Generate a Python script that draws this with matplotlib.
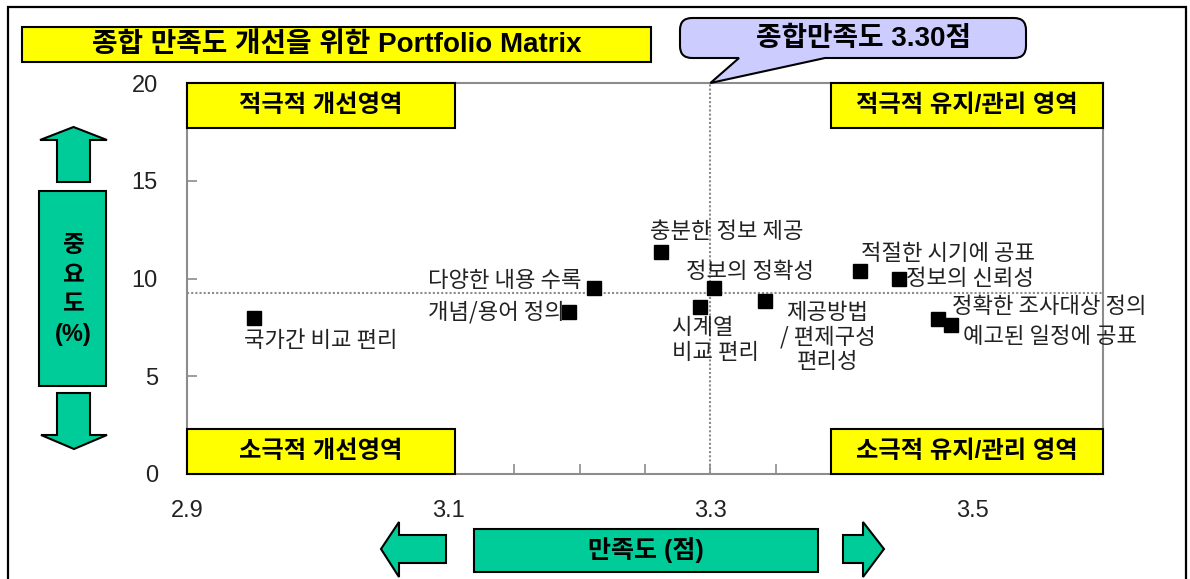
import matplotlib
matplotlib.use('Agg')
import matplotlib.pyplot as plt
from matplotlib.patches import Rectangle, Polygon, PathPatch
from matplotlib.path import Path
from matplotlib.ticker import FixedLocator, MultipleLocator

plt.rcParams['font.family'] = ['Noto Sans CJK KR', 'DejaVu Sans']
LATIN_FIRST = ['Liberation Sans', 'Noto Sans CJK KR', 'DejaVu Sans']

# ---------------- data ----------------
items = ['국가간 비교 편리', '개념/용어 정의', '다양한 내용 수록', '충분한 정보 제공',
         '시계열\n비교 편리', '정보의 정확성', '제공방법\n/ 편제구성\n편리성',
         '적절한 시기에 공표', '정보의 신뢰성', '정확한 조사대상 정의', '예고된 일정에 공표']
satisfaction = [2.951, 3.192, 3.211, 3.262, 3.292, 3.303, 3.342, 3.414, 3.444, 3.474, 3.484]
importance = [7.99, 8.28, 9.52, 11.35, 8.55, 9.52, 8.84, 10.37, 9.98, 7.94, 7.61]
overall_satisfaction = 3.30
avg_importance = 9.27
x_ticks = [2.9, 3.1, 3.3, 3.5]
x_ticklabels = ['2.9', '3.1', '3.3', '3.5']
y_ticks = [0, 5, 10, 15, 20]
quadrants = ['적극적 개선영역', '적극적 유지/관리 영역', '소극적 개선영역', '소극적 유지/관리 영역']
title = '종합 만족도 개선을 위한 Portfolio Matrix'
callout = '종합만족도 3.30점'
xlabel = '만족도 (점)'
ylabel = '중\n요\n도\n(%)'

# label layout: (dx px, dy px (down positive), ha)
label_layout = [(-10, 23, 'left'), (-4, 0, 'right'), (-12, -7, 'right'), (-11, -21, 'left'),
                (-28, 33, 'left'), (-28, -16, 'left'), (62, 36, 'center'),
                (1, -18, 'left'), (7, 0, 'left'), (14, -12, 'left'), (12, 11, 'left')]

W, H = 1190, 579
fig = plt.figure(figsize=(11.9, 5.79), dpi=100)
fig.patch.set_facecolor('white')

def fx(x):
    return x / W

def fy(y):
    return 1 - y / H

GREEN = '#00CC99'
YELLOW = '#FFFF00'
GRAY = '#8c8c8c'

ax = fig.add_axes([fx(187), fy(474), (1103 - 187) / W, (474 - 83) / H])
ax.set_xlim(2.9, 3.6)
ax.set_ylim(0, 20)
for s in ax.spines.values():
    s.set_color(GRAY)
    s.set_linewidth(1.5)
ax.xaxis.set_major_locator(FixedLocator(x_ticks))
ax.set_xticklabels(x_ticklabels)
ax.xaxis.set_minor_locator(MultipleLocator(0.05))
ax.yaxis.set_major_locator(FixedLocator(y_ticks))
ax.tick_params(axis='both', which='both', direction='in', color=GRAY, width=1.2, length=7)
ax.tick_params(axis='x', which='major', pad=19, labelsize=17, labelcolor='#222222')
ax.tick_params(axis='y', which='major', pad=21, labelsize=17, labelcolor='#222222')
for lab in ax.get_xticklabels() + ax.get_yticklabels():
    lab.set_family(LATIN_FIRST)

# reference lines
ax.axhline(avg_importance, color=GRAY, lw=1.5, ls=(0, (1, 1)), zorder=1)
ax.axvline(overall_satisfaction, color=GRAY, lw=1.5, ls=(0, (1, 1)), zorder=1)

# points
ax.plot(satisfaction, importance, 's', color='black', markersize=10, zorder=5)
for name, xv, yv, (dx, dy, ha) in zip(items, satisfaction, importance, label_layout):
    ax.annotate(name, (xv, yv), xytext=(dx * 0.72, -dy * 0.72), textcoords='offset points',
                ha=ha, va='center', fontsize=16, color='#222222', linespacing=1.08,
                multialignment=ha, zorder=6)

# quadrant boxes (axes fraction)
qpos = [(0.0, 0.2926, 'top'), (0.703, 0.297, 'top'),
        (0.0, 0.2926, 'bottom'), (0.703, 0.297, 'bottom')]
bh = 45 / 391
for q, (x0, w, where) in zip(quadrants, qpos):
    y0 = 1.0 - bh if where == 'top' else 0.0
    ax.add_patch(Rectangle((x0, y0), w, bh, transform=ax.transAxes, facecolor=YELLOW,
                           edgecolor='black', lw=1.5, zorder=7, clip_on=False))
    ax.text(x0 + w / 2, y0 + bh / 2, q, transform=ax.transAxes, ha='center', va='center',
            fontsize=17.5, fontweight='bold', color='black', zorder=8, family=LATIN_FIRST)

# ---------------- figure decorations ----------------
def frect(x0, y0, x1, y1, **kw):
    p = Rectangle((fx(x0), fy(y1)), fx(x1) - fx(x0), fy(y0) - fy(y1),
                  transform=fig.transFigure, **kw)
    fig.add_artist(p)
    return p

def fpoly(pts, **kw):
    p = Polygon([(fx(x), fy(y)) for x, y in pts], closed=True,
                transform=fig.transFigure, **kw)
    fig.add_artist(p)
    return p

# outer frame
frect(8, 7, 1186, 640, facecolor='none', edgecolor='black', lw=1.6, clip_on=False)

# title box
frect(22, 27, 651, 62, facecolor=YELLOW, edgecolor='black', lw=1.5)
fig.text(fx(337), fy(45), title, ha='center', va='center', fontsize=20, fontweight='bold',
         family=LATIN_FIRST)

# callout bubble
fig.canvas.draw()
tip_disp = ax.transData.transform((overall_satisfaction, 20))
tipx, tipy = tip_disp[0], H - tip_disp[1]
x0, x1, y0, y1, r = 680, 1026, 18, 58, 12
verts = [(x0 + r, y0), (x1 - r, y0), (x1, y0), (x1, y0 + r), (x1, y1 - r), (x1, y1),
         (x1 - r, y1), (825, y1), (tipx, tipy), (739, y1), (x0 + r, y1), (x0, y1),
         (x0, y1 - r), (x0, y0 + r), (x0, y0), (x0 + r, y0), (x0 + r, y0)]
codes = [Path.MOVETO, Path.LINETO, Path.CURVE3, Path.CURVE3, Path.LINETO, Path.CURVE3,
         Path.CURVE3, Path.LINETO, Path.LINETO, Path.LINETO, Path.LINETO, Path.CURVE3,
         Path.CURVE3, Path.LINETO, Path.CURVE3, Path.CURVE3, Path.CLOSEPOLY]
path = Path([(fx(a), fy(b)) for a, b in verts], codes)
fig.add_artist(PathPatch(path, facecolor='#CCCCFF', edgecolor='black', lw=1.5,
                         transform=fig.transFigure))
fig.text(fx(864), fy(39), callout, ha='center', va='center', fontsize=20, fontweight='bold',
         family=LATIN_FIRST)

# y label box with arrows
frect(39, 191, 106, 386, facecolor=GREEN, edgecolor='black', lw=1.5)
fig.text(fx(73), fy(290), ylabel, ha='center', va='center', fontsize=17,
         fontweight='bold', linespacing=1.38, family=LATIN_FIRST)
fpoly([(73.5, 127), (107, 140), (90, 140), (90, 182), (57, 182), (57, 140), (40, 140)],
      facecolor=GREEN, edgecolor='black', lw=1.5)
fpoly([(57, 393), (90, 393), (90, 435), (107, 435), (74, 449), (41, 435), (57, 435)],
      facecolor=GREEN, edgecolor='black', lw=1.5)

# x label box with arrows
frect(474, 529, 818, 572, facecolor=GREEN, edgecolor='black', lw=1.5)
fig.text(fx(646), fy(550), xlabel, ha='center', va='center', fontsize=18, fontweight='bold',
         family=LATIN_FIRST)
fpoly([(381, 549), (399, 522), (399, 535), (446, 535), (446, 563), (399, 563), (399, 577)],
      facecolor=GREEN, edgecolor='black', lw=1.5)
fpoly([(843, 535), (863, 535), (863, 522), (884, 549), (863, 577), (863, 563), (843, 563)],
      facecolor=GREEN, edgecolor='black', lw=1.5)

fig.savefig('out.png', dpi=100, facecolor='white')
